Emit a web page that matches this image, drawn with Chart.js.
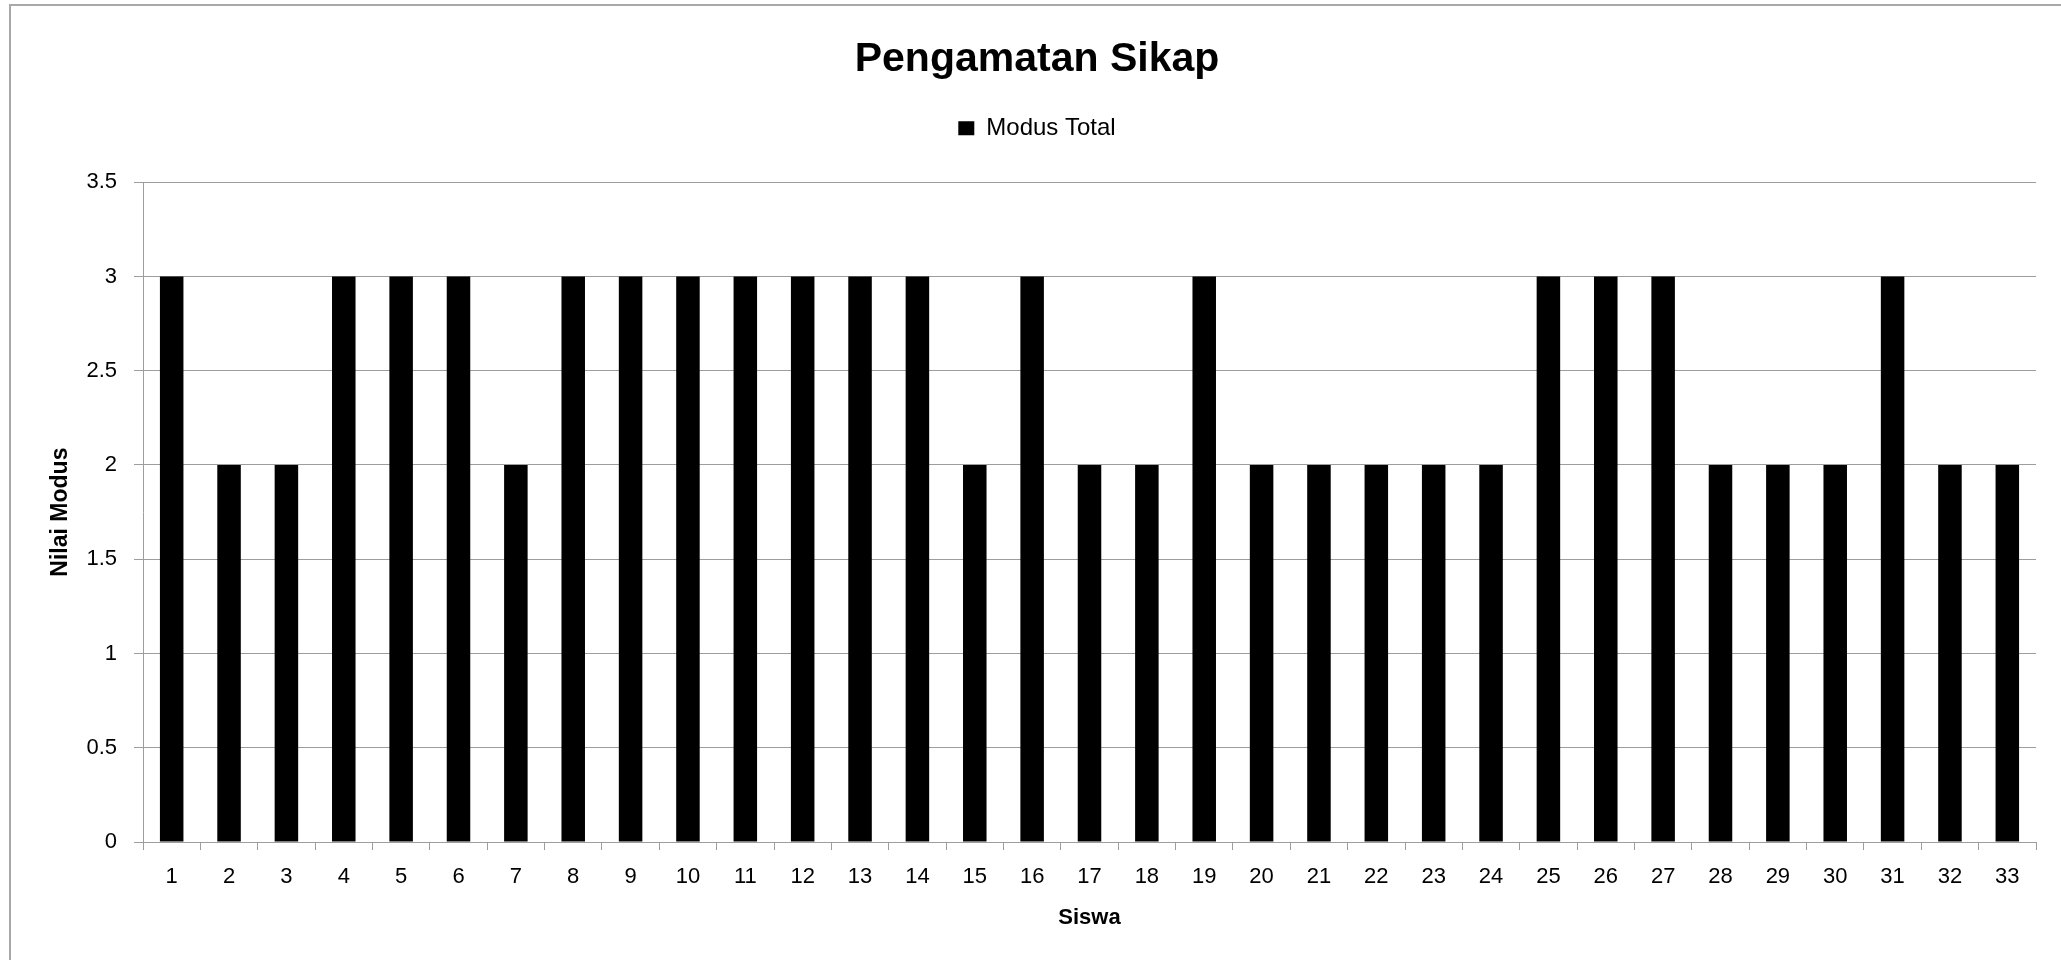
<!DOCTYPE html>
<html>
<head>
<meta charset="utf-8">
<title>Pengamatan Sikap</title>
<script src="https://cdn.jsdelivr.net/npm/chart.js@4.4.1/dist/chart.umd.min.js"></script>
<style>
  html, body { margin: 0; padding: 0; background: #ffffff; overflow: hidden; }
  #wrap { position: relative; width: 2061px; height: 960px; }
</style>
</head>
<body>
<div id="wrap"><canvas id="sikapChart"></canvas></div>
<script>
// data
const siswa = ['1', '2', '3', '4', '5', '6', '7', '8', '9', '10', '11', '12', '13', '14', '15', '16', '17',
  '18', '19', '20', '21', '22', '23', '24', '25', '26', '27', '28', '29', '30', '31', '32', '33'];
const modusTotal = [3, 2, 2, 3, 3, 3, 2, 3, 3, 3, 3, 3, 3, 3, 2, 3, 2,
  2, 3, 2, 2, 2, 2, 2, 3, 3, 3, 2, 2, 2, 3, 2, 2];
const yMin = 0;
const yMax = 3.5;
const yStep = 0.5;

const FONT = "'Liberation Sans', Arial, sans-serif";
const GRID = '#9d9d9d';

// outer frame like the spreadsheet chart box
const frame = {
  id: 'frame',
  beforeDraw(chart) {
    const ctx = chart.ctx;
    ctx.save();
    ctx.fillStyle = '#ffffff';
    ctx.fillRect(0, 0, chart.width, chart.height);
    ctx.fillStyle = '#a8a8a8';
    ctx.fillRect(9, 4, 2, chart.height);
    ctx.fillRect(9, 4, chart.width, 2);
    ctx.restore();
  }
};

// extra space between legend and plot
const legendGap = {
  id: 'legendGap',
  beforeInit(chart) {
    const fit = chart.legend.fit;
    chart.legend.fit = function () {
      fit.bind(chart.legend)();
      this.height += 32;
    };
  }
};

new Chart(document.getElementById('sikapChart'), {
  type: 'bar',
  data: {
    labels: siswa,
    datasets: [{
      label: 'Modus Total',
      data: modusTotal,
      backgroundColor: '#000000',
      borderWidth: 0,
      barPercentage: 0.41,
      categoryPercentage: 1.0
    }]
  },
  options: {
    responsive: true,
    maintainAspectRatio: false,
    animation: false,
    layout: {
      padding: { left: 38, right: 25, top: 0, bottom: 0 }
    },
    plugins: {
      tooltip: { enabled: false },
      title: {
        display: true,
        text: 'Pengamatan Sikap',
        color: '#000000',
        font: { family: FONT, size: 41, weight: 'bold' },
        padding: { top: 35, bottom: 0 }
      },
      legend: {
        position: 'top',
        labels: {
          color: '#000000',
          boxWidth: 16,
          boxHeight: 14,
          padding: 32,
          font: { family: FONT, size: 24 }
        }
      }
    },
    scales: {
      x: {
        offset: true,
        afterFit(scale) { scale.height = 118; },
        grid: {
          offset: true,
          drawOnChartArea: false,
          drawTicks: true,
          tickLength: 8,
          color: GRID
        },
        border: { display: true, color: GRID, width: 1 },
        ticks: {
          color: '#000000',
          padding: 14,
          maxRotation: 0,
          autoSkip: false,
          font: { family: FONT, size: 22 }
        },
        title: {
          display: true,
          text: 'Siswa',
          color: '#000000',
          font: { family: FONT, size: 22, weight: 'bold' },
          padding: { top: 0, bottom: 29 }
        }
      },
      y: {
        min: yMin,
        max: yMax,
        afterFit(scale) { scale.width = 105; },
        grid: {
          color: GRID,
          drawTicks: true,
          tickLength: 9
        },
        border: { display: true, color: GRID, width: 1 },
        ticks: {
          stepSize: yStep,
          color: '#000000',
          padding: 17,
          font: { family: FONT, size: 22 },
          callback: (v) => String(v)
        },
        title: {
          display: true,
          text: 'Nilai Modus',
          color: '#000000',
          font: { family: FONT, size: 23, weight: 'bold' },
          padding: { top: 9, bottom: 0 }
        }
      }
    }
  },
  plugins: [frame, legendGap]
});
</script>
</body>
</html>
